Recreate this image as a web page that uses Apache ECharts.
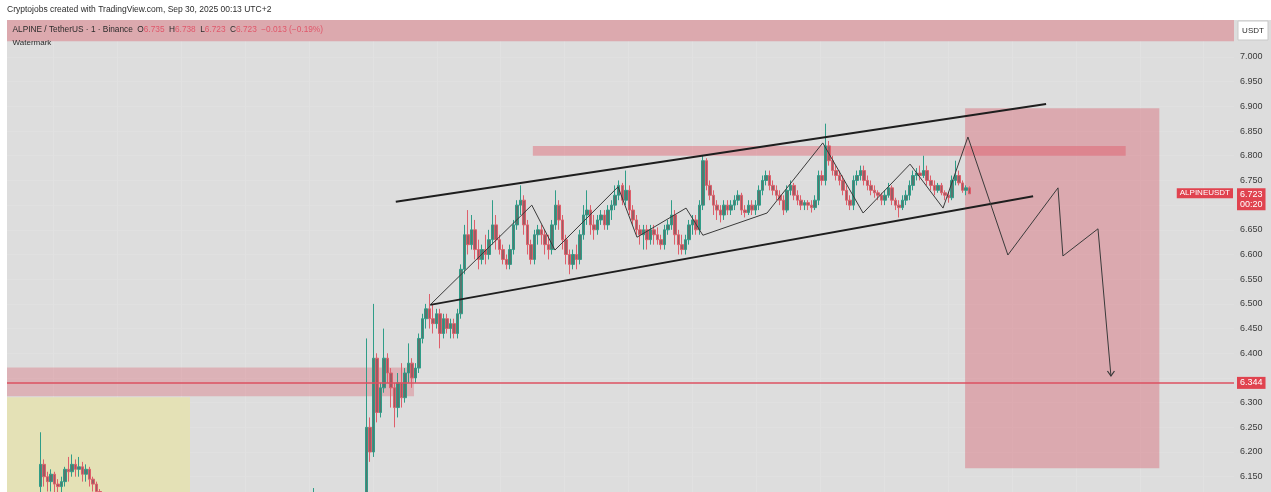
<!DOCTYPE html>
<html><head><meta charset="utf-8">
<script src="https://cdn.jsdelivr.net/npm/echarts@6/dist/echarts.min.js"></script>
<style>html,body{margin:0;padding:0;background:#fff;overflow:hidden;}#c{width:1271px;height:502px;}</style>
</head><body><div id="c"></div>
<script>
// ---------- DATA ----------
const SLOT_COUNT = 350;                 // 1-minute slots across the visible time range
// candles: [open, close, low, high]
const leftStart = 9;
const leftCandles = [
  [6.13,6.175,6.10,6.24],[6.175,6.15,6.13,6.185],[6.15,6.14,6.12,6.16],[6.14,6.155,6.12,6.165],
  [6.155,6.135,6.11,6.16],[6.135,6.13,6.11,6.145],[6.13,6.14,6.11,6.15],[6.14,6.165,6.13,6.17],
  [6.165,6.16,6.14,6.19],[6.16,6.175,6.15,6.195],[6.175,6.165,6.15,6.185],[6.165,6.17,6.15,6.19],
  [6.17,6.155,6.14,6.18],[6.155,6.165,6.14,6.175],[6.165,6.145,6.13,6.17],[6.145,6.135,6.12,6.15],
  [6.135,6.12,6.10,6.14],[6.12,6.11,6.09,6.125]
];
const hiddenIdx = 87;
const hiddenCandle = [6.10,6.105,6.09,6.127];
const mainStart = 101;
const mainCandles = [
  [6.08,6.09,6.07,6.10],[6.09,6.25,6.08,6.43],[6.25,6.20,6.18,6.27],[6.20,6.39,6.19,6.50],[6.39,6.28,6.26,6.40],[6.28,6.33,6.27,6.34],[6.33,6.39,6.32,6.45],[6.39,6.36,6.34,6.40],[6.36,6.33,6.29,6.37],[6.33,6.29,6.25,6.34],
  [6.29,6.34,6.27,6.36],[6.34,6.31,6.29,6.38],[6.31,6.36,6.30,6.37],[6.36,6.38,6.34,6.42],[6.38,6.35,6.33,6.39],[6.35,6.37,6.34,6.38],[6.37,6.43,6.36,6.44],[6.43,6.47,6.42,6.48],[6.47,6.49,6.45,6.50],[6.49,6.47,6.45,6.52],
  [6.47,6.46,6.44,6.50],[6.46,6.48,6.45,6.49],[6.48,6.44,6.41,6.49],[6.44,6.47,6.43,6.48],[6.47,6.45,6.44,6.48],[6.45,6.46,6.43,6.47],[6.46,6.44,6.43,6.47],[6.44,6.48,6.43,6.49],[6.48,6.57,6.47,6.58],[6.57,6.64,6.56,6.66],
  [6.64,6.62,6.60,6.69],[6.62,6.65,6.61,6.68],[6.65,6.61,6.59,6.67],[6.61,6.59,6.57,6.63],[6.59,6.61,6.58,6.62],[6.61,6.60,6.58,6.64],[6.60,6.63,6.59,6.65],[6.63,6.66,6.62,6.71],[6.66,6.63,6.61,6.68],[6.63,6.61,6.60,6.64],
  [6.61,6.59,6.58,6.62],[6.59,6.58,6.57,6.60],[6.58,6.61,6.57,6.62],[6.61,6.66,6.60,6.67],[6.66,6.70,6.65,6.71],[6.70,6.71,6.68,6.74],[6.71,6.66,6.64,6.72],[6.66,6.62,6.60,6.67],[6.62,6.59,6.58,6.63],[6.59,6.64,6.58,6.65],
  [6.64,6.65,6.62,6.66],[6.65,6.64,6.62,6.66],[6.64,6.62,6.60,6.65],[6.62,6.61,6.59,6.64],[6.61,6.66,6.60,6.67],[6.66,6.70,6.65,6.73],[6.70,6.67,6.65,6.71],[6.67,6.63,6.61,6.68],[6.63,6.60,6.58,6.64],[6.60,6.58,6.56,6.61],
  [6.58,6.60,6.57,6.61],[6.60,6.59,6.57,6.62],[6.59,6.64,6.58,6.65],[6.64,6.68,6.63,6.70],[6.68,6.69,6.66,6.73],[6.69,6.66,6.64,6.70],[6.66,6.65,6.63,6.68],[6.65,6.67,6.64,6.68],[6.67,6.68,6.66,6.69],[6.68,6.66,6.65,6.69],
  [6.66,6.69,6.65,6.70],[6.69,6.70,6.67,6.71],[6.70,6.72,6.69,6.74],[6.72,6.74,6.71,6.75],[6.74,6.71,6.70,6.745],[6.71,6.73,6.70,6.77],[6.73,6.69,6.68,6.74],[6.69,6.67,6.66,6.70],[6.67,6.65,6.64,6.68],[6.65,6.64,6.62,6.66],
  [6.64,6.65,6.61,6.66],[6.65,6.63,6.61,6.66],[6.63,6.65,6.62,6.66],[6.65,6.64,6.62,6.66],[6.64,6.63,6.62,6.655],[6.63,6.62,6.61,6.64],[6.62,6.65,6.61,6.66],[6.65,6.66,6.64,6.67],[6.66,6.68,6.65,6.71],[6.68,6.64,6.62,6.69],
  [6.64,6.62,6.60,6.65],[6.62,6.61,6.60,6.64],[6.61,6.63,6.60,6.64],[6.63,6.66,6.62,6.67],[6.66,6.67,6.64,6.68],[6.67,6.65,6.64,6.68],[6.65,6.70,6.64,6.71],[6.70,6.79,6.69,6.80],[6.79,6.74,6.73,6.795],[6.74,6.72,6.71,6.75],
  [6.72,6.70,6.68,6.73],[6.70,6.69,6.67,6.71],[6.69,6.68,6.665,6.70],[6.68,6.70,6.67,6.71],[6.70,6.69,6.68,6.71],[6.69,6.70,6.68,6.71],[6.70,6.71,6.69,6.72],[6.71,6.72,6.70,6.73],[6.72,6.69,6.68,6.725],[6.69,6.685,6.675,6.70],
  [6.685,6.70,6.68,6.71],[6.70,6.69,6.68,6.71],[6.69,6.70,6.68,6.71],[6.70,6.73,6.69,6.74],[6.73,6.75,6.72,6.76],[6.75,6.76,6.74,6.77],[6.76,6.74,6.73,6.77],[6.74,6.73,6.72,6.75],[6.73,6.72,6.71,6.74],[6.72,6.71,6.70,6.73],
  [6.71,6.69,6.68,6.72],[6.69,6.73,6.685,6.74],[6.73,6.74,6.72,6.75],[6.74,6.72,6.71,6.745],[6.72,6.71,6.70,6.73],[6.71,6.70,6.69,6.72],[6.70,6.705,6.69,6.71],[6.705,6.70,6.69,6.71],[6.70,6.695,6.685,6.71],[6.695,6.71,6.69,6.72],
  [6.71,6.76,6.70,6.77],[6.76,6.75,6.74,6.77],[6.75,6.82,6.74,6.865],[6.82,6.79,6.78,6.83],[6.79,6.77,6.76,6.80],[6.77,6.76,6.75,6.78],[6.76,6.75,6.74,6.77],[6.75,6.73,6.72,6.76],[6.73,6.71,6.70,6.74],[6.71,6.70,6.69,6.72],
  [6.70,6.75,6.69,6.76],[6.75,6.76,6.74,6.77],[6.76,6.77,6.75,6.78],[6.77,6.75,6.74,6.78],[6.75,6.74,6.73,6.76],[6.74,6.73,6.72,6.75],[6.73,6.725,6.715,6.74],[6.725,6.72,6.71,6.73],[6.72,6.71,6.70,6.725],[6.71,6.72,6.70,6.73],
  [6.72,6.735,6.715,6.745],[6.735,6.71,6.70,6.74],[6.71,6.70,6.69,6.715],[6.70,6.695,6.675,6.71],[6.695,6.71,6.69,6.72],[6.71,6.72,6.70,6.73],[6.72,6.74,6.71,6.75],[6.74,6.76,6.73,6.77],[6.76,6.765,6.75,6.775],[6.765,6.76,6.75,6.78],
  [6.76,6.77,6.755,6.80],[6.77,6.75,6.74,6.78],[6.75,6.74,6.73,6.76],[6.74,6.73,6.72,6.75],[6.73,6.74,6.725,6.745],[6.74,6.725,6.72,6.745],[6.725,6.72,6.71,6.73],[6.72,6.715,6.705,6.725],[6.715,6.75,6.71,6.76],[6.75,6.76,6.74,6.79],
  [6.76,6.745,6.74,6.77],[6.745,6.73,6.725,6.75],[6.73,6.735,6.72,6.74],[6.735,6.723,6.723,6.738]
];
// drawings: [slot, price]
const upperChannel = [[110.4,6.707],[295.9,6.905]];
const lowerChannel = [[120.2,6.498],[292.2,6.718]];
const zigzagPath = [[120.2,6.498],[149.2,6.700],[155.8,6.609],[173.8,6.737],[179.2,6.635],[193.2,6.694],[198.0,6.639],
  [216.3,6.684],[232.2,6.826],[243.7,6.684],[257.1,6.783],[266.5,6.694],[273.6,6.838],
  [285.0,6.599],[299.3,6.735],[300.7,6.597],[310.7,6.652],[314.4,6.354]];
// zones: [[slotFrom, priceTop],[slotTo, priceBottom]]
const headerZone   = [[-0.5,7.10],[349.5,7.032]];
const yellowZone   = [[-0.5,6.311],[51.7,6.10]];
const supportZone  = [[-0.5,6.371],[115.6,6.313]];
const resistZone   = [[149.5,6.820],[318.6,6.800]];
const targetZone   = [[272.8,6.896],[328.2,6.167]];
const supportLevel = 6.344;
const lastPrice = 6.723;
const lastCountdown = '00:20';
const hiddenTickLabels = ['7.100','7.050','6.700','6.350','6.100'];
const headerOHLC = {O:'6.735', H:'6.738', L:'6.723', C:'6.723', chg:'−0.013 (−0.19%)'};

// ---------- BUILD ----------
const FONT = "'Liberation Sans', Arial, sans-serif";
const TAG_RED = '#e0434f';
const categories = Array.from({length: SLOT_COUNT}, (_, i) => 'm' + i);
const candleData = categories.map(() => ['-','-','-','-']);
leftCandles.forEach((c, k) => { candleData[leftStart + k] = c; });
candleData[hiddenIdx] = hiddenCandle;
mainCandles.forEach((c, k) => { candleData[mainStart + k] = c; });

const vGrid = [];
for (let k = 0; k < 19; k++) vGrid.push({xAxis: 12.71 + 18.23 * k});

const zz = zigzagPath.map((p, i) => i === zigzagPath.length - 1
  ? {value: p, symbol: 'path://M0,0L4,6L8,0', symbolSize: [7, 5], symbolOffset: [0, -2.5],
     itemStyle: {color: 'rgba(0,0,0,0)', borderColor: '#3a3a3a', borderWidth: 1}}
  : p);

const zone = (z, fill) => [{coord: z[0], itemStyle: {color: fill}}, {coord: z[1]}];
const noLine = {color: 'rgba(0,0,0,0)', width: 0};

const chart = echarts.init(document.getElementById('c'), null, {renderer: 'canvas'});
chart.setOption({
  backgroundColor: '#dddddd',
  animation: false,
  grid: {left: 7, right: 37, top: 7.625, bottom: 0.625, show: false},
  xAxis: [
    {type: 'category', data: categories, boundaryGap: true, show: false},
    {type: 'value', min: -0.5, max: SLOT_COUNT - 0.5, show: false}
  ],
  yAxis: {
    type: 'value', position: 'right', min: 6.1, max: 7.1, interval: 0.05,
    axisLine: {show: false}, axisTick: {show: false},
    splitLine: {show: true, lineStyle: {color: '#e0e0e0', width: 1}},
    axisLabel: {margin: 6, color: '#3a3a3a', fontSize: 9, fontFamily: FONT,
      formatter: v => hiddenTickLabels.includes(v.toFixed(3)) ? '' : v.toFixed(3)}
  },
  series: [
    {type: 'line', xAxisIndex: 1, data: [], z: 0, silent: true,
     markLine: {z: 0, symbol: ['none','none'], silent: true, label: {show: false},
       lineStyle: {color: '#e1e1e1', width: 1, type: 'solid'}, data: vGrid}},
    {type: 'line', xAxisIndex: 1, data: [], z: 1, silent: true,
     markArea: {z: 1, silent: true, data: [
       zone(headerZone, '#dca9ae'),
       zone(yellowZone, '#e4e1b6'),
       zone(supportZone, 'rgba(220,80,95,0.30)'),
       zone(targetZone, 'rgba(215,85,100,0.38)'),
       zone(resistZone, 'rgba(225,70,85,0.36)')
     ]}},
    {type: 'candlestick', xAxisIndex: 0, data: candleData, barWidth: 3, z: 3,
     itemStyle: {color: '#58756e', color0: '#9a5d63', borderColor: '#2f9d88', borderColor0: '#de5f6b', borderWidth: 1}},
    {type: 'line', xAxisIndex: 1, data: upperChannel, symbol: 'none', z: 4,
     lineStyle: {color: '#1e1e1e', width: 2}},
    {type: 'line', xAxisIndex: 1, data: lowerChannel, symbol: 'none', z: 4,
     lineStyle: {color: '#1e1e1e', width: 2}},
    {type: 'line', xAxisIndex: 1, data: zz, symbol: 'none', z: 5,
     lineStyle: {color: '#3a3a3a', width: 1}},
    {type: 'line', xAxisIndex: 1, data: [], z: 6, silent: true,
     markLine: {symbol: ['none','none'], silent: true, data: [
       {yAxis: supportLevel, lineStyle: {color: '#dc5060', width: 1.5, type: 'solid'},
        label: {show: true, position: 'end', distance: 3, formatter: () => supportLevel.toFixed(3),
          backgroundColor: TAG_RED, color: '#fff', fontSize: 9, fontFamily: FONT, padding: [2,3,1,3]}},
       {yAxis: lastPrice, lineStyle: noLine,
        label: {show: true, position: 'end', distance: 3, formatter: () => lastPrice.toFixed(3) + '\n' + lastCountdown,
          backgroundColor: TAG_RED, color: '#fff', fontSize: 9, lineHeight: 10, fontFamily: FONT, padding: [1,3,1,3], offset: [0, 4]}},
       {yAxis: lastPrice, lineStyle: noLine,
        label: {show: true, position: 'insideEnd', distance: 1, formatter: 'ALPINEUSDT',
          backgroundColor: TAG_RED, color: '#fff', fontSize: 8, fontFamily: FONT, padding: [1,3,1,3], offset: [0, -2]}}
     ]}}
  ],
  graphic: [
    {type: 'rect', shape: {x: 0, y: 0, width: 1271, height: 20}, style: {fill: '#ffffff'}, z: 100},
    {type: 'rect', shape: {x: 0, y: 0, width: 7, height: 502}, style: {fill: '#ffffff'}, z: 100},
    {type: 'text', x: 7, y: 10, z: 101, style: {text: 'Cryptojobs created with TradingView.com, Sep 30, 2025 00:13 UTC+2',
      font: '8.5px ' + FONT, fill: '#2b2b2b', textVerticalAlign: 'middle'}},
    {type: 'text', x: 12.5, y: 29.5, z: 101, style: {
      text: '{d|ALPINE / TetherUS · 1 · Binance}  {d|O}{r|' + headerOHLC.O + '}  {d|H}{r|' + headerOHLC.H + '}  {d|L}{r|' + headerOHLC.L + '}  {d|C}{r|' + headerOHLC.C + '}  {r|' + headerOHLC.chg + '}',
      textVerticalAlign: 'middle', font: '8px ' + FONT,
      rich: {d: {fill: '#2b2b2b', fontSize: 8.3, fontFamily: FONT}, r: {fill: '#e0576a', fontSize: 8.3, fontFamily: FONT}}}},
    {type: 'text', x: 12.5, y: 43, z: 101, style: {text: 'Watermark', font: '8px ' + FONT, fill: '#2b2b2b', textVerticalAlign: 'middle'}},
    {type: 'rect', shape: {x: 1238, y: 21, width: 30, height: 19}, style: {fill: '#ffffff', stroke: '#c9c9c9', lineWidth: 1}, z: 101},
    {type: 'text', x: 1253, y: 30.5, z: 102, style: {text: 'USDT', font: '8px ' + FONT, fill: '#2b2b2b', textAlign: 'center', textVerticalAlign: 'middle'}}
  ]
});
</script></body></html>
